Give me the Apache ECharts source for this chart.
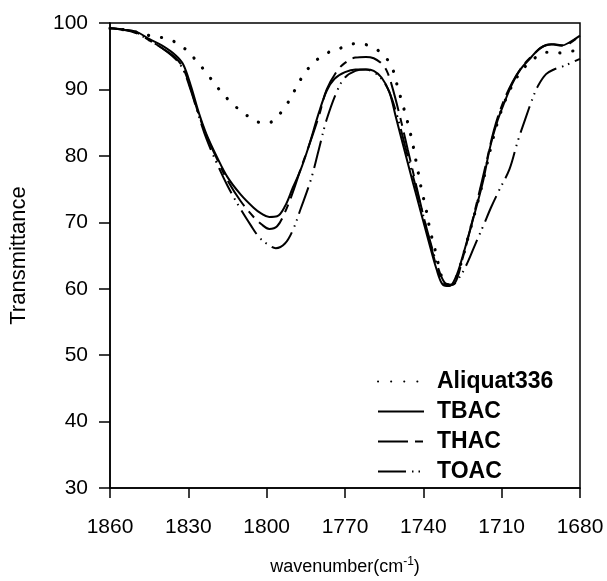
<!DOCTYPE html>
<html>
<head>
<meta charset="utf-8">
<script src="https://cdn.jsdelivr.net/npm/echarts@6/dist/echarts.min.js"></script>
<style>
html,body{margin:0;padding:0;background:#fff;}
#c{width:607px;height:581px;}
</style>
</head>
<body>
<div id="c"></div>
<script>
// ---- data ----
const seriesNames = ['Aliquat336', 'TBAC', 'THAC', 'TOAC'];
const xTicks = [1860, 1830, 1800, 1770, 1740, 1710, 1680];
const yTicks = [30, 40, 50, 60, 70, 80, 90, 100];

const wnAliquat = [1860, 1853, 1848, 1843.6, 1837.8, 1832.5, 1827.3, 1822.9, 1818.4, 1813.5, 1808, 1802.6, 1800, 1797.2, 1792.7, 1789.5, 1786.5, 1782.1, 1776.7, 1771.1, 1765.9, 1760.1, 1754.8, 1751.6, 1750, 1748.4, 1746.8, 1745.4, 1744.1, 1743.1, 1742, 1741, 1739.8, 1738.5, 1737.5, 1736.2, 1734.9, 1733.5, 1731.5, 1729, 1726, 1723, 1720, 1717, 1714, 1711, 1707, 1703, 1699, 1695, 1693, 1687.4, 1682, 1680];
const tAliquat  = [99.2, 98.9, 98.4, 98.0, 97.6, 96.5, 94.5, 92.4, 90.1, 88.0, 86.2, 85.0, 84.9, 85.4, 87.5, 89.7, 91.8, 94.0, 95.5, 96.3, 96.9, 96.5, 95.0, 92.9, 90.6, 88.4, 86.2, 84.1, 81.9, 79.8, 77.6, 75.5, 73.4, 71.1, 68.9, 66.9, 64.9, 62.5, 60.6, 60.7, 63.3, 67.5, 71.8, 76.4, 81.5, 85.8, 89.8, 92.5, 94.2, 95.3, 95.6, 95.5, 95.8, 95.5];

const wnTBAC = [1860, 1855, 1850, 1845, 1840, 1835, 1832, 1829, 1826, 1823, 1819, 1815, 1810, 1805, 1802, 1799, 1796, 1793, 1790, 1787, 1784, 1780, 1777, 1774, 1770, 1766, 1762, 1759, 1756, 1753, 1750.5, 1747, 1744, 1741, 1738, 1735, 1732.5, 1730, 1727.5, 1725, 1722, 1719.6, 1717, 1714.5, 1712, 1709, 1706, 1703, 1699, 1695, 1691, 1687, 1684, 1680];
const tTBAC  = [99.2, 99.0, 98.7, 97.6, 96.6, 95.2, 93.8, 90.5, 86.5, 83.2, 79.8, 76.8, 74.2, 72.2, 71.3, 70.8, 70.9, 72.4, 75.2, 77.9, 81.3, 86.5, 89.8, 91.6, 92.6, 93.0, 93.0, 92.8, 91.8, 89.6, 85.8, 80.5, 76.0, 71.6, 67.2, 63.0, 60.6, 60.4, 61.8, 64.8, 69.0, 72.4, 76.4, 81.2, 84.8, 88.0, 90.8, 92.9, 94.7, 96.3, 96.8, 96.6, 97.1, 98.1];

const wnTHAC = [1860, 1855, 1850, 1845, 1840, 1835, 1832, 1829, 1826, 1823, 1819, 1815, 1810, 1805, 1802, 1799, 1796, 1793, 1790, 1787, 1784, 1780, 1777, 1773, 1770, 1766, 1762, 1759, 1756, 1754, 1752, 1749, 1746, 1743, 1740, 1737, 1734, 1731, 1728, 1725, 1722, 1719, 1716, 1713, 1710, 1706, 1702, 1698, 1694, 1690, 1686, 1683, 1680];
const tTHAC  = [99.2, 99.0, 98.6, 97.4, 96.2, 94.8, 93.2, 90.0, 86.2, 83.0, 79.5, 76.3, 73.2, 70.8, 69.7, 69.0, 69.4, 71.5, 74.5, 78.0, 81.3, 86.0, 90.0, 92.8, 94.0, 94.8, 94.9, 94.7, 93.9, 92.8, 90.5, 86.0, 81.0, 76.0, 71.0, 66.3, 62.3, 60.5, 60.8, 64.5, 69.0, 73.8, 78.8, 83.8, 87.5, 91.0, 93.5, 95.2, 96.5, 96.8, 96.6, 97.2, 98.1];

const wnTOAC = [1860, 1855, 1850, 1845, 1840, 1835, 1832, 1829, 1826, 1823, 1819, 1815, 1810, 1806, 1803, 1800, 1796.5, 1793, 1790, 1787, 1783, 1780, 1777, 1773, 1770, 1766, 1762, 1759, 1756, 1753, 1750, 1747, 1744, 1741, 1738, 1735, 1732, 1729, 1726, 1723, 1720, 1717, 1714, 1711, 1707, 1704, 1701, 1698, 1696, 1693, 1690, 1687, 1684, 1680];
const tTOAC  = [99.2, 99.0, 98.5, 97.4, 96.2, 94.6, 93.0, 89.8, 86.0, 82.5, 78.8, 75.5, 72.0, 69.5, 67.8, 66.8, 66.1, 66.8, 68.8, 72.0, 76.5, 81.0, 85.5, 89.8, 91.8, 92.8, 93.0, 92.6, 91.6, 89.6, 86.0, 81.5, 77.0, 72.5, 68.0, 64.0, 61.0, 60.6, 61.8, 64.0, 66.8, 69.5, 72.3, 74.8, 78.0, 82.0, 85.5, 88.8, 90.6, 92.3, 93.0, 93.4, 93.9, 94.6];

// ---- build ----
const pairs = (xs, ys) => xs.map((x, i) => [x, ys[i]]);
const FONT = '"Liberation Sans", Arial, sans-serif';

const styles = {
  'Aliquat336': { type: [0.1, 13], width: 3.2, cap: 'round' },
  'TBAC': { type: 'solid', width: 2 },
  'THAC': { type: [30, 7, 8, 7], width: 2 },
  'TOAC': { type: [28, 6, 1.5, 5, 1.5, 6], width: 2 }
};
const dataSets = {
  'Aliquat336': pairs(wnAliquat, tAliquat),
  'TBAC': pairs(wnTBAC, tTBAC),
  'THAC': pairs(wnTHAC, tTHAC),
  'TOAC': pairs(wnTOAC, tTOAC)
};

const chart = echarts.init(document.getElementById('c'), null, { renderer: 'canvas' });
chart.setOption({
  animation: false,
  backgroundColor: '#fff',
  grid: { left: 110, top: 23, width: 470, height: 467, show: true, borderColor: '#000', borderWidth: 1.5, backgroundColor: 'transparent' },
  legend: {
    orient: 'vertical',
    left: 372, top: 365,
    itemWidth: 46, itemHeight: 14, itemGap: 7,
    itemStyle: { opacity: 0 },
    textStyle: { fontFamily: FONT, fontWeight: 'bold', fontSize: 23, color: '#000', lineHeight: 23, padding: [0, 0, 0, 8] },
    data: seriesNames
  },
  xAxis: {
    type: 'value', inverse: true,
    min: xTicks[xTicks.length - 1], max: xTicks[0], interval: 30,
    name: '{a|wavenumber(cm}{s|-1}{a|)}',
    nameLocation: 'middle', nameGap: 68,
    nameTextStyle: { rich: {
      a: { fontFamily: FONT, fontSize: 18, color: '#000', lineHeight: 22 },
      s: { fontFamily: FONT, fontSize: 12, color: '#000', padding: [0, 0, 10, 0] }
    } },
    axisLine: { show: true, lineStyle: { color: '#000', width: 1.5 } },
    axisTick: { show: true, length: 10, lineStyle: { color: '#000', width: 1.5 } },
    axisLabel: { fontFamily: FONT, fontSize: 21, color: '#000', margin: 29, formatter: v => String(v) },
    splitLine: { show: false }
  },
  yAxis: {
    type: 'value',
    min: yTicks[0], max: yTicks[yTicks.length - 1], interval: 10,
    name: 'Transmittance', nameLocation: 'middle', nameGap: 80,
    nameTextStyle: { fontFamily: FONT, fontSize: 22, color: '#000' },
    axisLine: { show: true, lineStyle: { color: '#000', width: 1.5 } },
    axisTick: { show: true, length: 11, lineStyle: { color: '#000', width: 1.5 } },
    axisLabel: { fontFamily: FONT, fontSize: 21, color: '#000', margin: 22, formatter: v => String(v) },
    splitLine: { show: false }
  },
  series: seriesNames.map(n => ({
    name: n, type: 'line', data: dataSets[n],
    smooth: 0.35, symbol: 'none', showSymbol: false,
    lineStyle: Object.assign({ color: '#000' }, styles[n]),
    itemStyle: { color: '#000' },
    z: n === 'TBAC' ? 3 : 2
  }))
});
</script>
</body>
</html>
